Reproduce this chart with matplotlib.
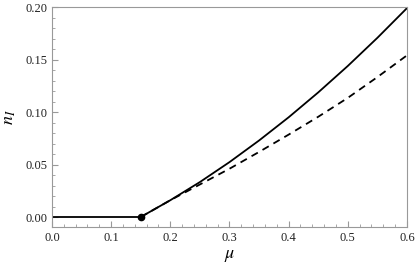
import matplotlib
matplotlib.use("Agg")
import matplotlib.pyplot as plt
from matplotlib.ticker import MultipleLocator

# data
mu_flat = [0.0, 0.15]
n_flat = [0.0, 0.0]
mu = [0.15, 0.2, 0.25, 0.3, 0.35, 0.4, 0.45, 0.5, 0.55, 0.6]
n_solid = [0.0, 0.016, 0.0333, 0.0523, 0.0729, 0.095, 0.1187, 0.1439, 0.1707, 0.199]
n_dashed = [0.0, 0.016, 0.031, 0.046, 0.062, 0.0785, 0.0955, 0.1135, 0.1333, 0.154]
crit_point = (0.15, 0.0)

plt.rcParams['font.family'] = ['Liberation Serif', 'DejaVu Serif']
plt.rcParams['mathtext.fontset'] = 'stix'

fig = plt.figure(figsize=(4.15, 2.71), dpi=100)
ax = fig.add_axes([0.1253, 0.1624, 0.8554, 0.8116])

ax.plot(mu_flat, n_flat, color='black', lw=1.3)
ax.plot(mu, n_solid, color='black', lw=1.3)
ax.plot(mu, n_dashed, color='black', lw=1.3, ls=(0, (4, 3)))
ax.plot(*crit_point, 'o', color='black', ms=4.5, zorder=5)

ax.set_xlim(0, 0.6)
ax.set_ylim(-0.0095, 0.2)
ax.xaxis.set_major_locator(MultipleLocator(0.1))
ax.xaxis.set_minor_locator(MultipleLocator(0.02))
ax.yaxis.set_major_locator(MultipleLocator(0.05))
ax.yaxis.set_minor_locator(MultipleLocator(0.01))
ax.xaxis.set_major_formatter(plt.FuncFormatter(lambda v, p: f"{v:.1f}"))
ax.yaxis.set_major_formatter(plt.FuncFormatter(lambda v, p: f"{v:.2f}"))

ax.tick_params(which='both', direction='in', color='#999999', labelsize=9, labelcolor='#222222')
ax.tick_params(which='major', length=4, width=0.8)
ax.tick_params(which='minor', length=2, width=0.6)
for s in ax.spines.values():
    s.set_color('#999999')
    s.set_linewidth(0.8)

ax.set_xlabel(r'$\mu$', fontsize=13, labelpad=2)
ax.set_ylabel(r'$n_I$', fontsize=13, labelpad=5)

fig.savefig('out.png', dpi=100)
